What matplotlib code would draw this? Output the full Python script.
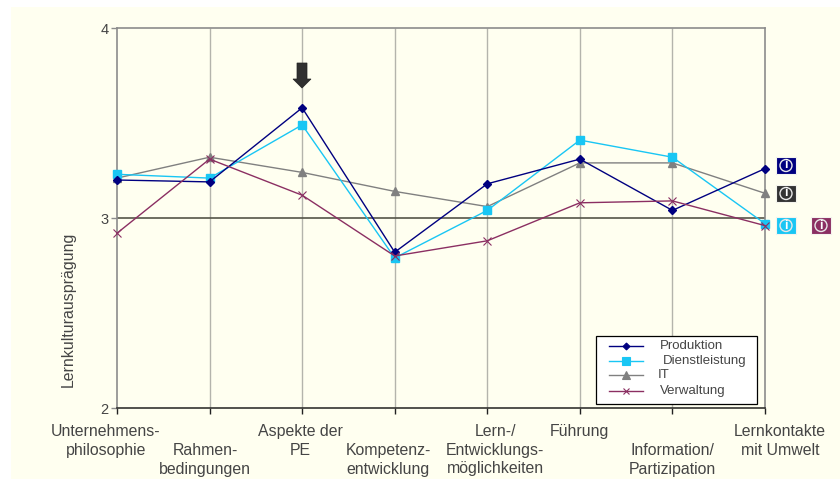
import matplotlib
matplotlib.use('Agg')
import matplotlib.pyplot as plt
from matplotlib.patches import Rectangle, FancyArrow

categories = ['Unternehmens-\nphilosophie', 'Rahmen-\nbedingungen', 'Aspekte der\nPE',
              'Kompetenz-\nentwicklung', 'Lern-/\nEntwicklungs-\nmöglichkeiten', 'Führung',
              'Information/\nPartizipation', 'Lernkontakte\nmit Umwelt']

produktion = [3.20, 3.19, 3.58, 2.82, 3.18, 3.31, 3.04, 3.26]
dienstleistung = [3.23, 3.21, 3.49, 2.79, 3.04, 3.41, 3.32, 2.97]
it = [3.21, 3.32, 3.24, 3.14, 3.06, 3.29, 3.29, 3.13]
verwaltung = [2.92, 3.31, 3.12, 2.80, 2.88, 3.08, 3.09, 2.96]

W, H = 840, 479
plt.rcParams['font.family'] = ['Liberation Sans', 'DejaVu Sans']
TEXT = '#454545'

fig = plt.figure(figsize=(W / 100, H / 100), dpi=100, facecolor='white')
bg = fig.add_axes([11 / W, 0, (W - 11) / W, 1 - 7 / H])
bg.set_facecolor('#fffff0')
bg.set_xticks([])
bg.set_yticks([])
for s in bg.spines.values():
    s.set_visible(False)

left, right, top, bottom = 117, 765, 28, 408
ax = fig.add_axes([left / W, 1 - bottom / H, (right - left) / W, (bottom - top) / H])
ax.patch.set_alpha(0)
x = list(range(8))
ax.set_xlim(0, 7)
ax.set_ylim(2, 4)

ax.vlines(x[1:-1], 2, 4, color='#b4b4ac', lw=1.0, zorder=1)
ax.hlines(3, 0, 7, color='#555548', lw=1.2, zorder=1)

ax.plot(x, it, color='#808080', marker='^', ms=6, lw=1.0, zorder=3, clip_on=False)
ax.plot(x, verwaltung, color='#8b2f62', marker='x', ms=5.5, mew=0.8, lw=1.0, zorder=6, clip_on=False)
ax.plot(x, dienstleistung, color='#19c6f4', marker='s', ms=5.5, lw=1.0, zorder=4, clip_on=False)
ax.plot(x, produktion, color='#000080', marker='D', ms=3.6, lw=1.0, zorder=5, clip_on=False)

for s in ax.spines.values():
    s.set_color('#8c8c8c')
    s.set_linewidth(1.2)
ax.spines['bottom'].set_color('#333330')

ax.set_yticks([2, 3, 4])
ax.set_yticklabels(['2', '3', '4'], fontsize=10.5, color=TEXT)
ax.set_xticks(x)
ax.set_xticklabels([])
ax.tick_params(axis='y', color='#8c8c8c', length=4, width=1.0, pad=2)
ax.tick_params(axis='x', color='#222222', length=4.5, width=1.0)

# tick labels sit off-centre and stagger in the original
label_x = [106, 205, 300, 388, 495, 579, 672, 780]
label_y = [424, 443, 424, 443, 424, 424, 443, 424]
for lab, lx, ly in zip(categories, label_x, label_y):
    fig.text(lx / W, 1 - ly / H, lab, ha='center', va='top',
             fontsize=11.4, color=TEXT, linespacing=1.3)

fig.text(68 / W, 1 - 309 / H, 'Lernkulturausprägung', rotation=90, ha='center', va='center',
         fontsize=11.4, color=TEXT)

# arrow above Aspekte der PE
fa = fig.add_axes([0, 0, 1, 1])
fa.set_xlim(0, W)
fa.set_ylim(H, 0)
fa.axis('off')
fa.patch.set_alpha(0)
fa.add_patch(FancyArrow(302, 63, 0, 25, width=10, head_width=18, head_length=9,
                        length_includes_head=True, fc='#303030', ec='#222222', lw=0.5, zorder=6))

# info badges at the right
for bx, by, col in [(776, 157, '#000080'), (776, 185, '#333333'), (776, 217, '#19c6f4'), (811, 217, '#8b2f62')]:
    fa.add_patch(Rectangle((bx, by), 20, 17, fc=col, ec='#f4f4ee', lw=0.8))
    fa.add_patch(plt.Circle((bx + 10, by + 8.5), 6, fc='none', ec='#e8e8e8', lw=1.0))
    fa.text(bx + 10, by + 8.5, 'i', color='white', fontsize=9, ha='center', va='center', fontweight='bold')

# legend drawn by hand to keep the uneven label indents
fa.add_patch(Rectangle((596, 336), 161, 68, fc='white', ec='black', lw=0.9, zorder=6))
legend = [('Produktion', 660, 346, '#000080', 'D', 3.5), ('Dienstleistung', 663, 361, '#19c6f4', 's', 6),
          ('IT', 658, 375, '#808080', '^', 5.5), ('Verwaltung', 660, 391, '#8b2f62', 'x', 5)]
for name, tx, ty, col, mk, ms in legend:
    fa.plot([609, 643], [ty, ty], color=col, lw=1.0, zorder=7)
    fa.plot([626], [ty], color=col, marker=mk, ms=ms, mew=0.8, zorder=7)
    fa.text(tx, ty, name, fontsize=9.5, color=TEXT, va='center', ha='left', zorder=7)

fig.savefig('out.png', dpi=100, facecolor='white')
